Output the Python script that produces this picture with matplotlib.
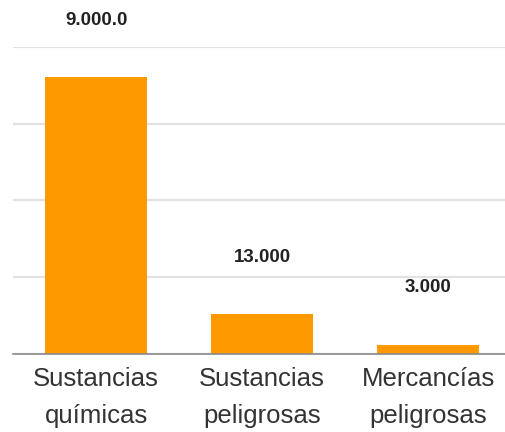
import matplotlib.pyplot as plt

# categories and values (bar heights)
categorias = ["Sustancias\nquímicas", "Sustancias\npeligrosas", "Mercancías\npeligrosas"]
valores = [90000, 13000, 3000]
etiquetas = ["9.000.0", "13.000", "3.000"]

fig = plt.figure(figsize=(5.06, 4.32), dpi=100)
ax = fig.add_axes([13 / 506, 78 / 432, 498.4 / 506, 307.3 / 432])

x = range(len(categorias))
bars = ax.bar(x, valores, width=0.615, color="#ff9900", zorder=3)

ax.set_xlim(-0.5, 2.5)
ax.set_ylim(0, 100000)
ax.set_yticks([0, 25000, 50000, 75000, 100000])
ax.yaxis.grid(True, color="#e2e2e2", linewidth=1.6, zorder=0)
ax.set_yticklabels([])
ax.tick_params(axis="y", length=0)

for s in ["top", "right", "left"]:
    ax.spines[s].set_visible(False)
ax.spines["bottom"].set_color("#8a8a8a")
ax.spines["bottom"].set_linewidth(1.2)
ax.spines["bottom"].set_zorder(4)

ax.set_xticks(list(x))
ax.set_xticklabels(categorias, fontsize=18.5, color="#333333",
                   family="Liberation Sans")
for lbl in ax.get_xticklabels():
    lbl.set_linespacing(1.7)
ax.tick_params(axis="x", length=0, pad=9.5)

# value labels above each bar
for b, txt in zip(bars, etiquetas):
    ax.annotate(txt, (b.get_x() + b.get_width() / 2, b.get_height()),
                xytext=(0, 41), textcoords="offset points",
                ha="center", va="center", fontsize=13.5, fontweight="bold",
                family="Liberation Sans", color="#222222", annotation_clip=False)

fig.savefig("out.png", dpi=100)
